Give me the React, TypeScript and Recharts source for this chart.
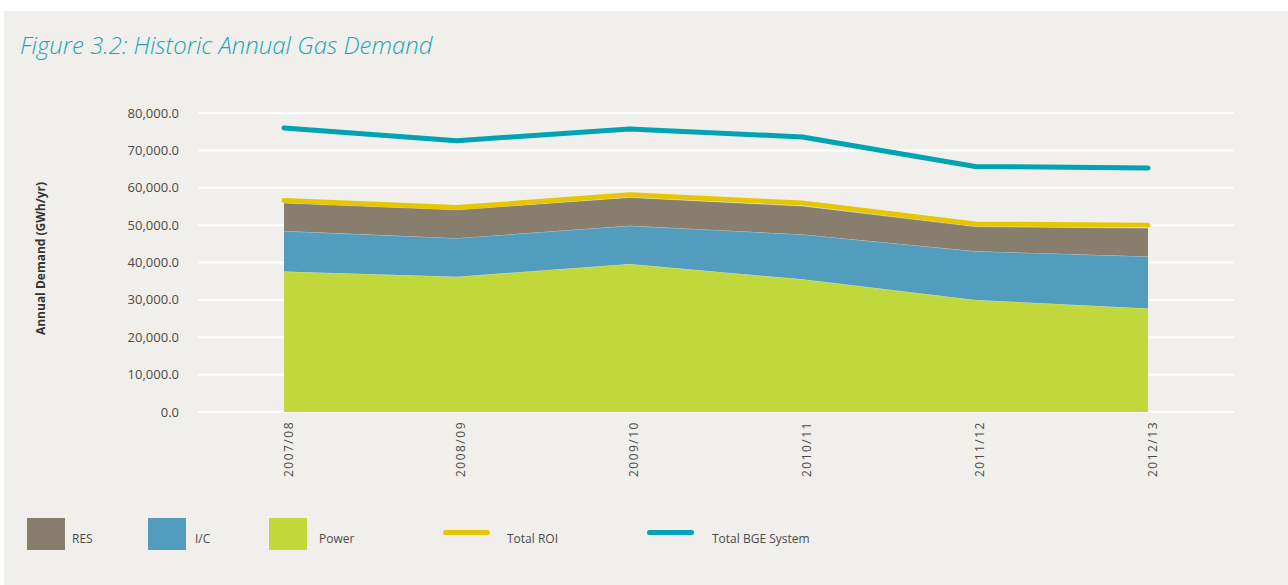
import React from 'react';
import {
  ComposedChart,
  Area,
  Line,
  XAxis,
  YAxis,
  CartesianGrid,
  Legend,
} from 'recharts';

const categories = ['2007/08', '2008/09', '2009/10', '2010/11', '2011/12', '2012/13'];
const powerValues = [37600, 36200, 39600, 35500, 30000, 27700];
const icValues = [10800, 10300, 10200, 12000, 13000, 13900];
const resValues = [7500, 7600, 7600, 7600, 6600, 7600];
const totalRoiValues = [56600, 54700, 58100, 55900, 50300, 50000];
const totalBgeValues = [76000, 72600, 75700, 73600, 65700, 65300];
const yTicks = [0, 10000, 20000, 30000, 40000, 50000, 60000, 70000, 80000];

const COLORS = {
  res: '#877e6d',
  ic: '#529cbe',
  power: '#c0d83c',
  roi: '#e5c600',
  bge: '#00a3b3',
};

const data = categories.map((c, i) => ({
  year: c,
  power: powerValues[i],
  ic: icValues[i],
  res: resValues[i],
  roi: totalRoiValues[i],
  bge: totalBgeValues[i],
}));

const legendItems = [
  { name: 'RES', color: COLORS.res, kind: 'box', x: 27, tx: 72 },
  { name: 'I/C', color: COLORS.ic, kind: 'box', x: 148, tx: 195 },
  { name: 'Power', color: COLORS.power, kind: 'box', x: 269, tx: 319 },
  { name: 'Total ROI', color: COLORS.roi, kind: 'line', x: 443, tx: 507 },
  { name: 'Total BGE System', color: COLORS.bge, kind: 'line', x: 647, tx: 712 },
];

const FONT = '"Open Sans", "Noto Sans", sans-serif';

const renderLegend = () => (
  <div style={{ position: 'relative', width: 900, height: 60 }}>
    {legendItems.map((it) => (
      <React.Fragment key={it.name}>
        {it.kind === 'box' ? (
          <div
            style={{
              position: 'absolute',
              left: it.x,
              top: 13,
              width: 38,
              height: 32,
              background: it.color,
            }}
          />
        ) : (
          <div
            style={{
              position: 'absolute',
              left: it.x,
              top: 25,
              width: 47,
              height: 5,
              borderRadius: 3,
              background: it.color,
            }}
          />
        )}
        <span
          style={{
            position: 'absolute',
            left: it.tx,
            top: 26,
            fontFamily: FONT,
            fontSize: 12,
            color: '#4a4a4a',
            whiteSpace: 'nowrap',
            lineHeight: '16px',
          }}
        >
          {it.name}
        </span>
      </React.Fragment>
    ))}
  </div>
);

const YLabel = (props: any) => {
  const vb = props.viewBox || {};
  const cy = (vb.y || 0) + (vb.height || 0) / 2 - 4;
  const cx = 40;
  return (
    <text
      x={cx}
      y={cy}
      transform={`rotate(-90, ${cx}, ${cy})`}
      textAnchor="middle"
      dominantBaseline="central"
      style={{ fontFamily: FONT, fontSize: 12, fontWeight: 700, fill: '#333' }}
    >
      Annual Demand (GWh/yr)
    </text>
  );
};

const fmt = (v: number) =>
  v.toLocaleString('en-US', { minimumFractionDigits: 1, maximumFractionDigits: 1 });

export default function App() {
  return (
    <div style={{ position: 'absolute', left: 0, top: 0, width: 1288, height: 585, background: '#ffffff' }}>
      <div
        style={{
          position: 'absolute',
          left: 4,
          top: 11,
          width: 1284,
          height: 574,
          background: '#f0efeb',
        }}
      />
      <div
        style={{
          position: 'absolute',
          left: 20,
          top: 30,
          fontFamily: FONT,
          fontStyle: 'italic',
          fontWeight: 300,
          fontSize: 24,
          color: '#1da5b6',
          whiteSpace: 'nowrap',
          lineHeight: '30px',
        }}
      >
        Figure 3.2: Historic Annual Gas Demand
      </div>
      <div style={{ position: 'absolute', left: 0, top: 0 }}>
        <ComposedChart
          width={1288}
          height={585}
          data={data}
          margin={{ top: 113, right: 54, bottom: 0, left: 0 }}
        >
          <CartesianGrid vertical={false} stroke="#ffffff" strokeWidth={2} />
          <XAxis
            dataKey="year"
            height={173}
            axisLine={false}
            tickLine={false}
            tickSize={0}
            tickMargin={9}
            padding={{ left: 86, right: 86 }}
            angle={-90}
            textAnchor="end"
            interval={0}
            tick={{ fontFamily: FONT, fontSize: 12, fill: '#4a4a4a', letterSpacing: 1.5 }}
          />
          <YAxis
            width={198}
            domain={[0, 80000]}
            ticks={yTicks}
            interval={0}
            axisLine={false}
            tickLine={false}
            tickSize={0}
            tickMargin={19}
            tickFormatter={fmt}
            tick={{ fontFamily: FONT, fontSize: 13, fill: '#4a4a4a' }}
            label={<YLabel />}
          />
          <Area
            type="linear"
            dataKey="power"
            name="Power"
            stackId="a"
            fill={COLORS.power}
            fillOpacity={1}
            stroke="rgba(255,255,255,0.35)"
            strokeWidth={1}
            isAnimationActive={false}
          />
          <Area
            type="linear"
            dataKey="ic"
            name="I/C"
            stackId="a"
            fill={COLORS.ic}
            fillOpacity={1}
            stroke="rgba(255,255,255,0.35)"
            strokeWidth={1}
            isAnimationActive={false}
          />
          <Area
            type="linear"
            dataKey="res"
            name="RES"
            stackId="a"
            fill={COLORS.res}
            fillOpacity={1}
            stroke="rgba(255,255,255,0.35)"
            strokeWidth={1}
            isAnimationActive={false}
          />
          <Line
            type="linear"
            dataKey="roi"
            name="Total ROI"
            stroke={COLORS.roi}
            strokeWidth={5}
            strokeLinecap="round"
            strokeLinejoin="round"
            dot={false}
            activeDot={false}
            isAnimationActive={false}
          />
          <Line
            type="linear"
            dataKey="bge"
            name="Total BGE System"
            stroke={COLORS.bge}
            strokeWidth={5}
            strokeLinecap="round"
            strokeLinejoin="round"
            dot={false}
            activeDot={false}
            isAnimationActive={false}
          />
          <Legend
            layout="vertical"
            align="center"
            verticalAlign="middle"
            wrapperStyle={{ position: 'absolute', left: 0, top: 505, width: 900, height: 60 }}
            content={renderLegend}
          />
        </ComposedChart>
      </div>
    </div>
  );
}
